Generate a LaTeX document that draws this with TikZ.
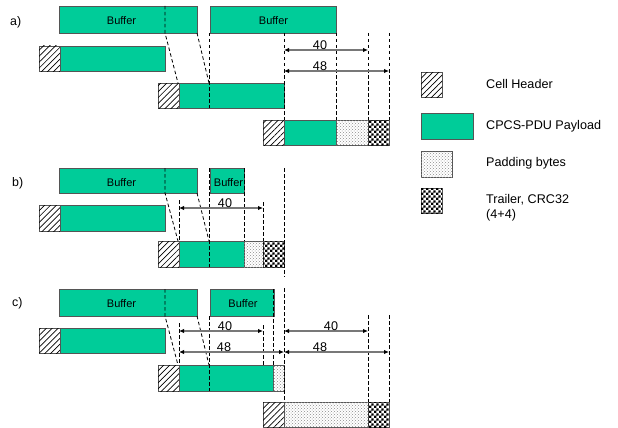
\documentclass[tikz,border=0pt]{standalone}
\usepackage{fontspec}
\setmainfont{Liberation Sans}
\usetikzlibrary{arrows.meta,patterns,patterns.meta}
\definecolor{payg}{RGB}{0,204,153}
\definecolor{boxgray}{RGB}{85,85,85}
\definecolor{arrgray}{RGB}{120,120,120}
\pgfdeclarepatternformonly{checker}{\pgfqpoint{0pt}{0pt}}{\pgfqpoint{5.2pt}{5.2pt}}{\pgfqpoint{5.2pt}{5.2pt}}{%
  \pgfpathrectangle{\pgfqpoint{0pt}{0pt}}{\pgfqpoint{2.6pt}{2.6pt}}%
  \pgfpathrectangle{\pgfqpoint{2.6pt}{2.6pt}}{\pgfqpoint{2.6pt}{2.6pt}}%
  \pgfusepath{fill}}
\tikzset{
  outl/.style={draw=boxgray,line width=0.9pt},
  paybox/.style={outl,fill=payg},
  hdrbox/.style={outl,fill=white,postaction={pattern={Lines[angle=45,distance=4.2pt,line width=0.7pt]},pattern color=black}},
  padbox/.style={outl,fill=white,postaction={pattern=crosshatch dots,pattern color=black!45}},
  trlbox/.style={outl,fill=white,postaction={pattern=checker,pattern color=black}},
  dsh/.style={black,line width=0.8pt,dash pattern=on 3.5pt off 2.5pt},
  dimarr/.style={arrgray,line width=1.2pt,{Latex[length=5pt,width=4.5pt,color=black]}-{Latex[length=5pt,width=4.5pt,color=black]}},
  lbl/.style={font=\fontsize{12.6}{14}\selectfont,anchor=base,inner sep=0pt},
  buftxt/.style={font=\fontsize{11}{13}\selectfont,anchor=base,inner sep=0pt},
  sect/.style={font=\fontsize{12.4}{14}\selectfont,anchor=base west,inner sep=0pt},
  leg/.style={font=\fontsize{12.6}{15}\selectfont,anchor=west,inner sep=0pt,align=left}
}
\begin{document}
\begin{tikzpicture}[x=1pt,y=-1pt]
\useasboundingbox (0,0) rectangle (618,428);

% ===== a) =====
\node[sect] (la) at (10,26) {a)};
\draw[paybox] (59,6) rectangle (197,33);
\draw[paybox] (210,6) rectangle (336,33);
\node[buftxt] (ba1) at (121.5,25) {Buffer};
\node[buftxt] (ba2) at (273.5,25) {Buffer};
\draw[hdrbox] (39,46) rectangle (60,71);
\draw[paybox] (60,46) rectangle (165,71);
\draw[hdrbox] (158,83) rectangle (179,108);
\draw[paybox] (179,83) rectangle (284,108);
\draw[hdrbox] (263,120) rectangle (284,145);
\draw[paybox] (284,120) rectangle (336,145);
\draw[padbox] (336,120) rectangle (368,145);
\draw[trlbox] (368,120) rectangle (389,145);
\draw[dsh] (165,6) -- (165,33) -- (178,83);
\draw[dsh] (197,33) -- (209,83);
\draw[dsh] (209,33) -- (209,108);
\draw[dsh] (284,33) -- (284,120);
\draw[dsh] (336,33) -- (336,120);
\draw[dsh] (368,33) -- (368,120);
\draw[dsh] (389,33) -- (389,120);
\coordinate (a40s) at (284,50); \coordinate (a40e) at (368,50);
\coordinate (a48s) at (284,71); \coordinate (a48e) at (389,71);
\draw[dimarr] (a40s) -- (a40e);
\draw[dimarr] (a48s) -- (a48e);
\node[lbl] (ta40) at (320,49.5) {40};
\node[lbl] (ta48) at (320,70.5) {48};

% ===== b) =====
\node[sect] (lb) at (12,186) {b)};
\draw[paybox] (59,168) rectangle (197,193);
\draw[paybox] (210,168) rectangle (244,193);
\node[buftxt] (bb1) at (121.5,186) {Buffer};
\node[buftxt] (bb2) at (228.5,186) {Buffer};
\draw[hdrbox] (39,205) rectangle (60,231);
\draw[paybox] (60,205) rectangle (165,231);
\draw[hdrbox] (158,241) rectangle (179,267);
\draw[paybox] (179,241) rectangle (244,267);
\draw[padbox] (244,241) rectangle (263,267);
\draw[trlbox] (263,241) rectangle (284,267);
\draw[dsh] (165,168) -- (165,193) -- (178,241);
\draw[dsh] (197,193) -- (209,241);
\draw[dsh] (209,168) -- (209,267);
\draw[dsh] (179,200) -- (179,241);
\draw[dsh] (244,168) -- (244,241);
\draw[dsh] (263,202) -- (263,241);
\draw[dsh] (284,168) -- (284,277);
\coordinate (b40s) at (179,208); \coordinate (b40e) at (263,208);
\draw[dimarr] (b40s) -- (b40e);
\node[lbl] (tb40) at (225,207.5) {40};

% ===== c) =====
\node[sect] (lc) at (12,306) {c)};
\draw[paybox] (59,289) rectangle (197,316);
\draw[paybox] (210,289) rectangle (274,316);
\node[buftxt] (bc1) at (121.5,307) {Buffer};
\node[buftxt] (bc2) at (243,307) {Buffer};
\draw[hdrbox] (39,328) rectangle (60,353);
\draw[paybox] (60,328) rectangle (165,353);
\draw[hdrbox] (158,365) rectangle (179,391);
\draw[paybox] (179,365) rectangle (273,391);
\draw[padbox] (273,365) rectangle (284,391);
\draw[hdrbox] (263,402) rectangle (284,427);
\draw[padbox] (284,402) rectangle (368,427);
\draw[trlbox] (368,402) rectangle (389,427);
\draw[dsh] (165,289) -- (165,316) -- (178,365);
\draw[dsh] (197,316) -- (209,365);
\draw[dsh] (209,316) -- (209,391);
\draw[dsh] (179,323) -- (179,365);
\draw[dsh] (263,325) -- (263,367);
\draw[dsh] (273,289) -- (273,365);
\draw[dsh] (284,288) -- (284,402);
\draw[dsh] (368,315) -- (368,402);
\draw[dsh] (389,315) -- (389,402);
\coordinate (c40s) at (179,331); \coordinate (c40e) at (263,331);
\coordinate (c48s) at (179,352); \coordinate (c48e) at (284,352);
\coordinate (d40s) at (284,331); \coordinate (d40e) at (368,331);
\coordinate (d48s) at (284,352); \coordinate (d48e) at (389,352);
\draw[dimarr] (c40s) -- (c40e);
\draw[dimarr] (c48s) -- (c48e);
\draw[dimarr] (d40s) -- (d40e);
\draw[dimarr] (d48s) -- (d48e);
\node[lbl] (tc40) at (225,330.5) {40};
\node[lbl] (tc48) at (224,351.5) {48};
\node[lbl] (td40) at (331,330.5) {40};
\node[lbl] (td48) at (320,351.5) {48};

% ===== legend =====
\draw[hdrbox] (421,72) rectangle (442,97);
\draw[paybox] (421,113) rectangle (473,139);
\draw[padbox] (421,151) rectangle (452,177);
\draw[trlbox] (421,188) rectangle (442,213);
\node[leg] (lg1) at (486,84) {Cell Header};
\node[leg] (lg2) at (486,126) {CPCS-PDU Payload};
\node[leg] (lg3) at (486,163) {Padding bytes};
\node[leg] (lg4) at (486,207.5) {Trailer, CRC32\\(4+4)};
\end{tikzpicture}
\end{document}
